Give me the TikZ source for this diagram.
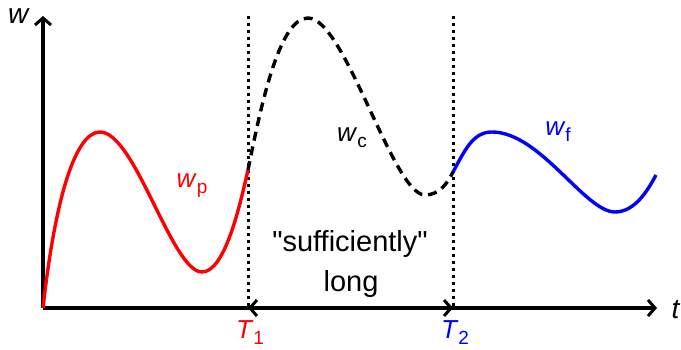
\documentclass[tikz,border=0pt]{standalone}
\usepackage{fontspec}
\setmainfont{Liberation Sans}[Ligatures=TeXOff]
\usetikzlibrary{arrows.meta}
\newcommand{\sbx}[1]{\raisebox{-6pt}{\fontsize{19}{22}\selectfont\upshape #1}}
\begin{document}
\begin{tikzpicture}[x=1pt,y=-1pt,
  lbl/.style={font=\fontsize{26}{30}\selectfont, inner sep=0pt},
  big/.style={font=\fontsize{29}{33}\selectfont, inner sep=0pt},
  tip/.tip={Straight Barb[length=7pt,width=16pt,line width=3pt]},
  axis/.style={line width=3.2pt, -tip},
  curve/.style={line width=3.4pt},
  vdots/.style={draw=black, line width=3pt, dash pattern=on 3pt off 4pt},
  dbl/.style={line width=3.2pt, tip-tip}]
\useasboundingbox (0,0) rectangle (681,350);
\coordinate (O) at (43,308);
\coordinate (ytop) at (43,16);
\coordinate (xend) at (657,308);
\coordinate (T1b) at (248,308);
\coordinate (T2b) at (453,308);
\coordinate (T1t) at (248,16);
\coordinate (T2t) at (453,16);
\coordinate (A) at (248,170);
\coordinate (B) at (453,172);
% axes
\draw[axis] (O) -- (ytop);
\draw[axis] (O) -- (xend);
\node[lbl, anchor=base, font=\fontsize{28}{32}\selectfont] (wy) at (19,24) {\textit{w}};
\node[lbl, anchor=base, font=\fontsize{28}{32}\selectfont] (tx) at (676,319) {\textit{t}};
% guides
\path[vdots] (T1t) -- (T1b);
\path[vdots] (T2t) -- (T2b);
\draw[dbl] (T1b) -- (T2b);
\node[lbl, red, anchor=base] (T1) at (250,338) {\textit{T}\sbx{1}};
\node[lbl, blue, anchor=base] (T2) at (455,338) {\textit{T}\sbx{2}};
% curves
\draw[curve, red] (O) .. controls (55,200) and (75,132) .. (100,132)
  .. controls (135,132) and (172,272) .. (202,272)
  .. controls (225,272) and (240,205) .. (A);
\draw[curve, dash pattern=on 9pt off 6pt] (A) .. controls (262,100) and (280,18) .. (308,18)
  .. controls (345,18) and (393,195) .. (425,195)
  .. controls (440,195) and (448,182) .. (B);
\draw[curve, blue] (B) .. controls (465,150) and (473,132) .. (492,132)
  .. controls (540,132) and (585,212) .. (615,212)
  .. controls (635,212) and (648,190) .. (656,175);
% labels
\node[lbl, red, anchor=base] (wp) at (192,188) {\textit{w}\sbx{p}};
\node[lbl, anchor=base] (wc) at (352,142) {\textit{w}\sbx{c}};
\node[lbl, blue, anchor=base] (wf) at (558,136) {\textit{w}\sbx{f}};
\node[big, anchor=base] (suff) at (350,252) {"sufficiently"};
\node[big, anchor=base] (long) at (351,291) {long};
\end{tikzpicture}
\end{document}
